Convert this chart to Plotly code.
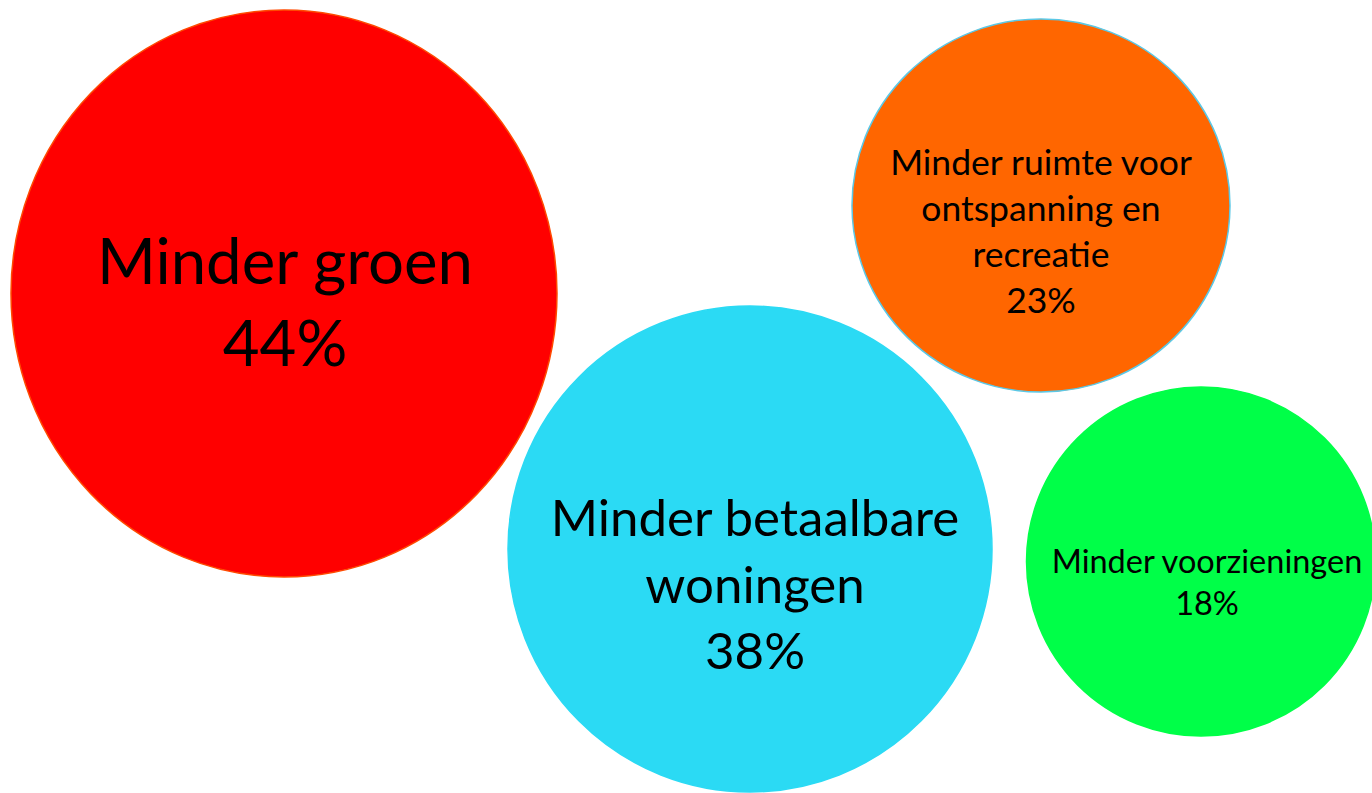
import plotly.graph_objects as go

# ---- data ----
categories = [
    "Minder groen",
    "Minder betaalbare<br>woningen",
    "Minder ruimte voor<br>ontspanning en<br>recreatie",
    "Minder voorzieningen",
]
values = [44, 38, 23, 18]
colors = ["#FF0000", "#2BDAF4", "#FF6600", "#00FF48"]
outline_colors = ["#FF4A00", "#2BDAF4", "#5BC8E6", "#00FF48"]

# ---- layout (page-pixel geometry) ----
centers_x = [284, 750, 1041, 1201]
centers_y = [293.5, 549, 205.5, 561.5]
radii_x = [273, 242, 189, 174.5]
radii_y = [283.5, 243, 186.5, 174.5]
text_x = [285, 755, 1041, 1207]
text_y = [309, 590, 235, 586]
text_sizes = [63.5, 51, 35.5, 32.5]

W, H = 1372, 793

fig = go.Figure()

shapes = []
for cx, cy, rx, ry, c, oc in zip(centers_x, centers_y, radii_x, radii_y, colors, outline_colors):
    shapes.append(dict(
        type="circle", xref="x", yref="y",
        x0=cx - rx, x1=cx + rx, y0=cy - ry, y1=cy + ry,
        fillcolor=c, line=dict(color=oc, width=1.5), layer="below",
    ))

labels = [f"{c}<br>{v}%" for c, v in zip(categories, values)]

fig.add_trace(go.Scatter(
    x=text_x, y=text_y, mode="text", text=labels,
    textposition="middle center",
    textfont=dict(family="Lato", size=text_sizes, color="#000000"),
    hoverinfo="skip", showlegend=False,
))

fig.update_layout(
    width=W, height=H,
    margin=dict(l=0, r=0, t=0, b=0),
    paper_bgcolor="white", plot_bgcolor="white",
    shapes=shapes,
    xaxis=dict(range=[0, W], visible=False, fixedrange=True),
    yaxis=dict(range=[H, 0], visible=False, fixedrange=True),
    showlegend=False,
)

page_css = (
    "document.documentElement.style.margin='0';"
    "document.documentElement.style.overflow='hidden';"
    "document.body.style.margin='0';"
    "document.body.style.overflow='hidden';"
)

fig.write_html("out.html", config={"displayModeBar": False}, post_script=page_css)
